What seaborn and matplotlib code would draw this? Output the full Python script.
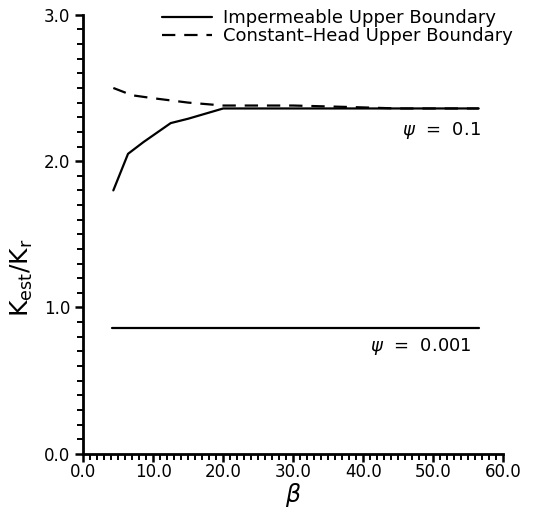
import seaborn as sns
import matplotlib.pyplot as plt
import matplotlib.ticker as mticker
import numpy as np

sns.set_style("ticks")
plt.rcParams['font.family'] = ['DejaVu Sans']
plt.rcParams['text.color'] = 'black'
plt.rcParams['axes.labelcolor'] = 'black'
plt.rcParams['xtick.color'] = 'black'
plt.rcParams['ytick.color'] = 'black'

# psi = 0.1, impermeable upper boundary
beta_imp = [4.3, 6.4, 8.6, 12.5, 15.0, 20.0, 25.0, 30.0, 40.0, 50.0, 56.5]
k_imp = [1.80, 2.05, 2.13, 2.26, 2.29, 2.36, 2.36, 2.36, 2.36, 2.36, 2.36]

# psi = 0.1, constant-head upper boundary
beta_ch = [4.3, 7.0, 10.0, 15.0, 20.0, 25.0, 30.0, 38.0, 45.0, 56.5]
k_ch = [2.50, 2.45, 2.43, 2.40, 2.38, 2.38, 2.38, 2.37, 2.36, 2.36]

# psi = 0.001 (both boundaries coincide)
beta_low = [4.1, 10.0, 20.0, 30.0, 40.0, 50.0, 56.5]
k_low = [0.86, 0.86, 0.86, 0.86, 0.86, 0.86, 0.86]

fig = plt.figure(figsize=(5.44, 5.11), dpi=100)
ax = fig.add_axes([0.153, 0.112, 0.772, 0.859])

sns.lineplot(x=beta_imp, y=k_imp, ax=ax, color="black", lw=1.6,
             label="Impermeable Upper Boundary")
sns.lineplot(x=beta_ch, y=k_ch, ax=ax, color="black", lw=1.6,
             linestyle=(0, (6, 4)), label="Constant\u2013Head Upper Boundary")
sns.lineplot(x=beta_low, y=k_low, ax=ax, color="black", lw=1.6)

ax.set_xlim(0, 60)
ax.set_ylim(0, 3)
ax.xaxis.set_major_locator(mticker.MultipleLocator(10))
ax.xaxis.set_minor_locator(mticker.MultipleLocator(1))
ax.yaxis.set_major_locator(mticker.MultipleLocator(1))
ax.yaxis.set_minor_locator(mticker.MultipleLocator(0.1))
ax.xaxis.set_major_formatter(mticker.FormatStrFormatter('%.1f'))
ax.yaxis.set_major_formatter(mticker.FormatStrFormatter('%.1f'))
ax.tick_params(which="major", length=6, width=1.8, labelsize=12)
ax.tick_params(which="minor", length=4, width=1.4)
ax.tick_params(axis="x", pad=1)

sns.despine(ax=ax)
for s in ["left", "bottom"]:
    ax.spines[s].set_linewidth(2)
    ax.spines[s].set_color("black")

ax.set_xlabel(r"$\beta$", fontsize=17, labelpad=0)
ax.set_ylabel(r"$\mathregular{K_{est}/K_r}$", fontsize=18)
ax.yaxis.set_label_coords(-0.115, 0.40)

ax.text(56.8, 2.21, r"$\psi$  =  0.1", fontsize=13, ha="right", va="center")
ax.text(55.5, 0.73, r"$\psi$  =  0.001", fontsize=13, ha="right", va="center")

leg = ax.legend(loc="upper left", bbox_to_anchor=(0.17, 1.03), frameon=False,
                fontsize=13, handlelength=2.8, handletextpad=0.6,
                labelspacing=0.0, borderaxespad=0)

fig.savefig("out.png", dpi=100)
